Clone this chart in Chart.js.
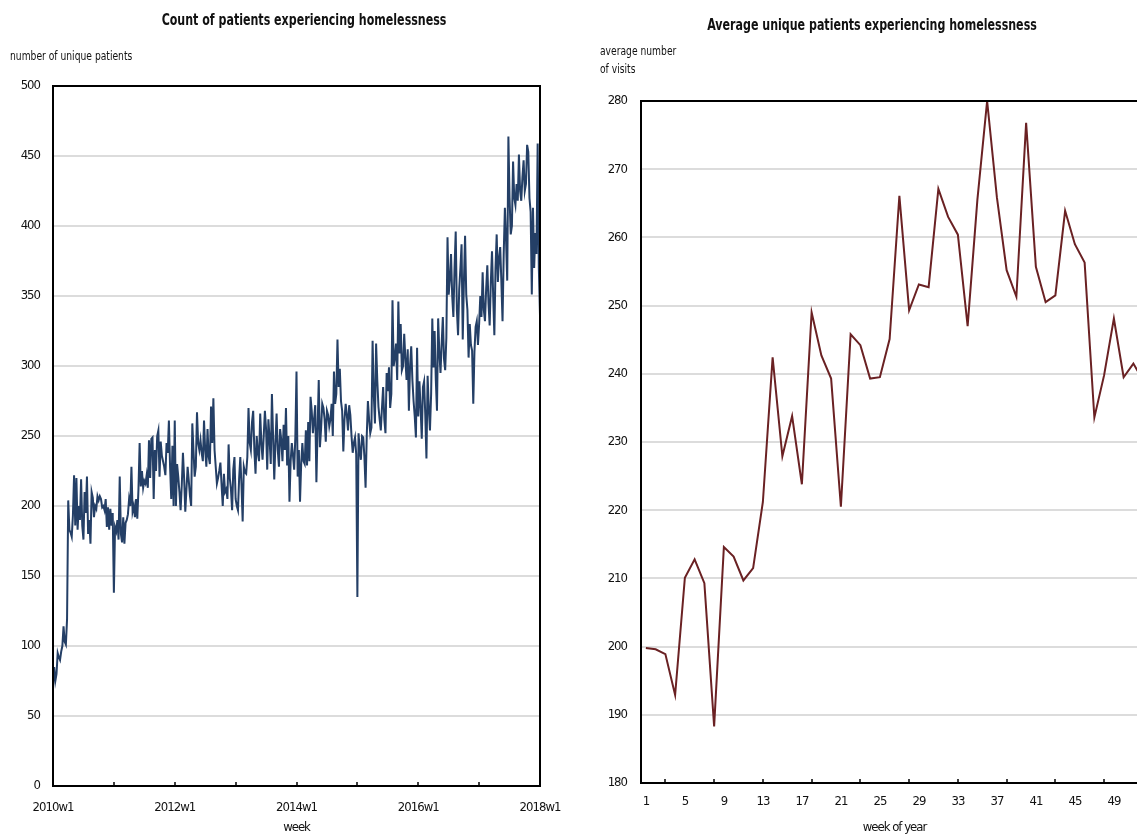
<!DOCTYPE html>
<html>
<head>
<meta charset="utf-8">
<title>Patients experiencing homelessness</title>
<script src="https://cdn.jsdelivr.net/npm/chart.js@4.4.1/dist/chart.umd.min.js"></script>
<style>
  html, body { margin: 0; padding: 0; background: #fff; overflow: hidden; }
  body { width: 1137px; height: 834px; position: relative; }
  canvas { position: absolute; top: 0; }
  #countChart { left: 0; }
  #avgChart { left: 580px; }
</style>
</head>
<body>
<canvas id="countChart" width="608" height="834"></canvas>
<canvas id="avgChart" width="600" height="834"></canvas>
<script>
// weekly counts, one array per year (52 weeks each)
const wk2010 = [72, 85, 75, 80, 95, 92, 90, 96, 100, 114,
    103, 101, 119, 204, 183, 181, 178, 193, 222, 186,
    220, 183, 200, 190, 219, 186, 176, 210, 195, 221,
    180, 190, 173, 210, 206, 192, 200, 198, 207, 204,
    207, 205, 199, 200, 197, 205, 185, 199, 183, 198,
    186, 195];
const wk2011 = [138, 185, 182, 190, 176, 221, 180, 174, 192, 173,
    188, 190, 194, 205, 200, 228, 196, 200, 192, 205,
    191, 212, 245, 214, 225, 213, 218, 216, 222, 213,
    247, 220, 248, 249, 205, 240, 225, 250, 254, 221,
    246, 236, 232, 228, 222, 245, 238, 261, 228, 205,
    243, 200];
const wk2012 = [261, 200, 230, 221, 210, 197, 215, 238, 220, 196,
    212, 228, 218, 207, 200, 259, 240, 221, 228, 267,
    245, 240, 247, 238, 232, 261, 240, 228, 255, 235,
    230, 271, 245, 277, 240, 228, 216, 220, 225, 231,
    215, 200, 223, 210, 212, 205, 244, 220, 212, 197,
    226, 235];
const wk2013 = [205, 200, 197, 220, 235, 215, 189, 228, 224, 223,
    235, 270, 245, 240, 260, 268, 240, 223, 250, 238,
    232, 266, 245, 233, 250, 268, 255, 226, 262, 248,
    230, 280, 250, 219, 245, 266, 240, 228, 255, 247,
    232, 258, 240, 270, 229, 250, 203, 232, 245, 236,
    226, 249];
const wk2014 = [296, 221, 240, 203, 230, 245, 232, 230, 254, 229,
    260, 232, 278, 268, 252, 262, 272, 217, 255, 290,
    242, 255, 273, 270, 262, 246, 268, 265, 257, 262,
    273, 250, 296, 273, 280, 319, 285, 298, 275, 268,
    239, 262, 273, 265, 254, 272, 265, 250, 238, 245,
    249, 237];
const wk2015 = [135, 252, 240, 233, 250, 249, 235, 213, 250, 275,
    262, 252, 256, 318, 280, 259, 316, 290, 271, 262,
    254, 270, 285, 262, 252, 295, 282, 299, 270, 280,
    347, 300, 306, 316, 290, 346, 309, 330, 297, 300,
    323, 305, 290, 312, 268, 300, 314, 290, 275, 264,
    249, 313];
const wk2016 = [264, 289, 270, 248, 285, 289, 265, 234, 293, 270,
    254, 280, 334, 299, 325, 290, 268, 334, 310, 295,
    316, 335, 305, 297, 320, 392, 351, 362, 380, 350,
    335, 370, 396, 340, 322, 355, 370, 387, 319, 360,
    393, 351, 340, 306, 330, 315, 311, 273, 310, 328,
    332, 315];
const wk2017 = [330, 350, 335, 367, 340, 332, 355, 372, 345, 329,
    360, 382, 350, 322, 370, 394, 360, 377, 385, 360,
    332, 380, 413, 390, 361, 464, 420, 394, 400, 446,
    420, 415, 430, 418, 451, 425, 418, 435, 447, 425,
    430, 458, 453, 420, 410, 351, 413, 370, 395, 380,
    459, 370];
const wk2018 = [336];

const yearTickWeeks  = [0, 52, 104, 156, 208, 260, 312, 364, 416];
const yearTickLabels = ['2010w1', '', '2012w1', '', '2014w1', '', '2016w1', '', '2018w1'];

// average by week of year
const weekOfYear = [1, 2, 3, 4, 5, 6, 7, 8, 9, 10, 11, 12, 13, 14, 15, 16, 17, 18, 19, 20,
    21, 22, 23, 24, 25, 26, 27, 28, 29, 30, 31, 32, 33, 34, 35, 36, 37, 38, 39, 40,
    41, 42, 43, 44, 45, 46, 47, 48, 49, 50, 51, 52];
const avgVisits = [199.8, 199.6, 198.9, 192.9, 210.1, 212.8, 209.3, 188.3, 214.6, 213.2,
    209.7, 211.5, 221.2, 242.4, 227.9, 233.8, 223.8, 249.0, 242.7, 239.3,
    220.5, 245.8, 244.2, 239.3, 239.5, 245.1, 266.1, 249.3, 253.1, 252.7,
    267.1, 263.0, 260.4, 247.0, 265.5, 280.0, 265.9, 255.2, 251.3, 276.8,
    255.7, 250.5, 251.5, 263.9, 259.0, 256.3, 233.6, 239.8, 248.1, 239.5,
    241.5, 239.0];
const weekLabelTicks = [1, 5, 9, 13, 17, 21, 25, 29, 33, 37, 41, 45, 49];
const weekMarkTicks  = [3, 8, 13, 18, 23, 28, 33, 38, 43, 48];

const FONT = "'DejaVu Sans Condensed', 'DejaVu Sans', sans-serif";
const INK  = '#111';
const GRID = '#dcdcdc';

Chart.defaults.font.family = FONT;
Chart.defaults.font.size   = 13;
Chart.defaults.color       = INK;
Chart.defaults.plugins.legend.display  = false;
Chart.defaults.plugins.tooltip.enabled = false;
Chart.defaults.animation = false;

// squeezed text, to get close to the narrow face of the original
function narrowText(ctx, text, x, y, font, sx, align) {
    ctx.save();
    ctx.font = font;
    ctx.textAlign = align;
    ctx.textBaseline = 'middle';
    ctx.translate(x, y);
    ctx.scale(sx, 1);
    ctx.fillText(text, 0, 0);
    ctx.restore();
}

// frame, inner tick marks, title and the horizontal y caption
const decor = {
    id: 'decor',
    beforeDraw(chart) {
        chart.ctx.letterSpacing = '-1px';
    },
    afterDraw(chart, args, o) {
        const { ctx, chartArea: a } = chart;
        const xs = chart.scales.x;
        ctx.letterSpacing = '0px';
        ctx.save();
        ctx.strokeStyle = '#000';
        ctx.lineWidth = 1.5;
        ctx.beginPath();
        o.marks.forEach(v => {
            const px = Math.round(xs.getPixelForValue(v));
            ctx.moveTo(px, a.bottom);
            ctx.lineTo(px, a.bottom - 4);
        });
        ctx.stroke();
        ctx.lineWidth = 2;
        ctx.strokeRect(a.left, a.top, a.right - a.left, a.bottom - a.top);
        ctx.fillStyle = INK;
        narrowText(ctx, o.title, o.titleX, o.titleY, `bold 15px ${FONT}`, 0.82, 'center');
        o.caption.forEach((line, k) =>
            narrowText(ctx, line, o.capX, o.capY + k * 18, `12px ${FONT}`, 0.85, 'left'));
        ctx.restore();
    }
};

const weekCounts  = [...wk2010, ...wk2011, ...wk2012, ...wk2013, ...wk2014, ...wk2015, ...wk2016, ...wk2017, ...wk2018];
const countPoints = weekCounts.map((y, i) => ({ x: i, y }));
const avgPoints   = weekOfYear.map((w, i) => ({ x: w, y: avgVisits[i] }));

new Chart(document.getElementById('countChart'), {
    type: 'line',
    data: { datasets: [{
        data: countPoints,
        borderColor: '#243f66', borderWidth: 2,
        pointRadius: 0, tension: 0,
    }] },
    options: {
        responsive: false,
        layout: { padding: { top: 86, left: 0, right: 68, bottom: 0 } },
        scales: {
            x: {
                type: 'linear', min: 0, max: 416,
                grid: { display: false, drawTicks: false },
                border: { display: false },
                afterBuildTicks: s => { s.ticks = yearTickWeeks.map(v => ({ value: v })); },
                afterFit: s => { s.height = 48; },
                ticks: {
                    autoSkip: false, maxRotation: 0, padding: 14,
                    callback: v => yearTickLabels[yearTickWeeks.indexOf(v)] ?? '',
                },
                title: { display: true, text: 'week', padding: 0, font: { size: 13, lineHeight: 1 } },
            },
            y: {
                min: 0, max: 500,
                grid: { color: GRID, lineWidth: 2, drawTicks: false },
                border: { display: false },
                afterFit: s => { s.width = 53; },
                ticks: { stepSize: 50, padding: 13 },
            }
        },
        plugins: {
            decor: {
                marks: yearTickWeeks,
                title: 'Count of patients experiencing homelessness',
                titleX: 304, titleY: 21,
                caption: ['number of unique patients'],
                capX: 10, capY: 57,
            }
        }
    },
    plugins: [decor]
});

new Chart(document.getElementById('avgChart'), {
    type: 'line',
    data: { datasets: [{
        data: avgPoints,
        borderColor: '#6a2123', borderWidth: 2,
        pointRadius: 0, tension: 0,
    }] },
    options: {
        responsive: false,
        layout: { padding: { top: 101, left: 0, right: 32, bottom: 0 } },
        scales: {
            x: {
                type: 'linear', min: 0.5, max: 52.5,
                grid: { display: false, drawTicks: false },
                border: { display: false },
                afterBuildTicks: s => { s.ticks = weekLabelTicks.map(v => ({ value: v })); },
                afterFit: s => { s.height = 51; },
                ticks: { autoSkip: false, maxRotation: 0, padding: 11 },
                title: { display: true, text: 'week of year', padding: 0, font: { size: 13, lineHeight: 1 } },
            },
            y: {
                min: 180, max: 280,
                grid: { color: GRID, lineWidth: 2, drawTicks: false },
                border: { display: false },
                afterFit: s => { s.width = 61; },
                ticks: { stepSize: 10, padding: 14 },
            }
        },
        plugins: {
            decor: {
                marks: weekMarkTicks,
                title: 'Average unique patients experiencing homelessness',
                titleX: 292, titleY: 26,
                caption: ['average number', 'of visits'],
                capX: 20, capY: 52,
            }
        }
    },
    plugins: [decor]
});
</script>
</body>
</html>
